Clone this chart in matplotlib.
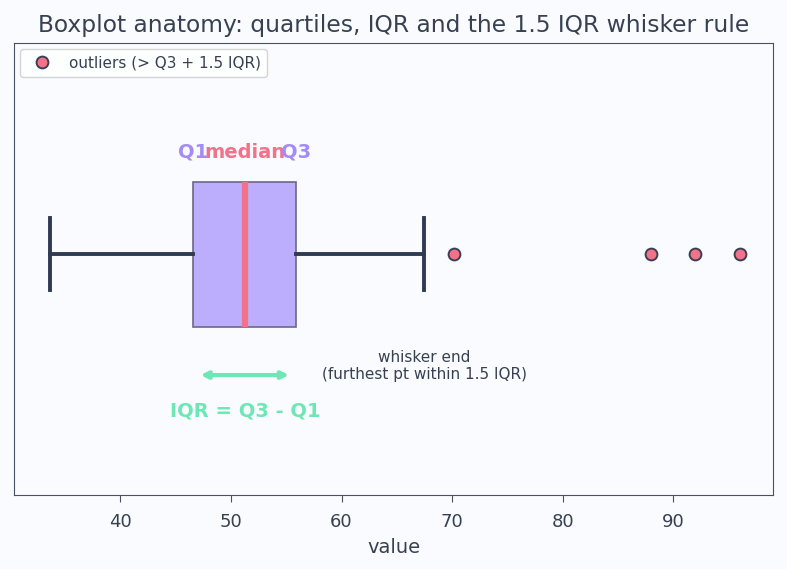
import matplotlib.pyplot as plt
from matplotlib.lines import Line2D

# summary stats
whisker_lo = 33.6
q1 = 46.6
median = 51.3
q3 = 55.9
whisker_hi = 67.5
outliers = [70.2, 88.0, 92.0, 96.0]

dark = "#2f3b52"
text_col = "#374151"
purple = "#a48bf5"
pink = "#f4718a"
green = "#6ee7b7"
bg = "#fafbfe"

fig, ax = plt.subplots(figsize=(7.87, 5.69), dpi=100)
fig.patch.set_facecolor(bg)
ax.set_facecolor(bg)

stats = [{
    "whislo": whisker_lo, "q1": q1, "med": median, "q3": q3,
    "whishi": whisker_hi, "fliers": outliers,
}]
ax.bxp(stats, positions=[1], widths=0.5, vert=False, patch_artist=True,
       showfliers=False,
       boxprops=dict(facecolor="#bcaefc", edgecolor="#6b6888", linewidth=1.2),
       medianprops=dict(color=pink, linewidth=4.5),
       whiskerprops=dict(color=dark, linewidth=2.8),
       capprops=dict(color=dark, linewidth=2.8))

ax.plot(outliers, [1] * len(outliers), "o", markersize=8.5,
        markerfacecolor=pink, markeredgecolor="#3b3f55", markeredgewidth=1.4,
        linestyle="none")

ax.text(q1, 1.352, "Q1", color=purple, ha="center", va="center",
        fontsize=14, fontweight="bold")
ax.text(median, 1.352, "median", color=pink, ha="center", va="center",
        fontsize=14, fontweight="bold")
ax.text(q3, 1.352, "Q3", color=purple, ha="center", va="center",
        fontsize=14, fontweight="bold")

ax.annotate("", xy=(q3 - 0.4, 0.583), xytext=(q1 + 0.4, 0.583),
            arrowprops=dict(arrowstyle="<->", color=green, lw=3))
ax.text(median, 0.459, "IQR = Q3 - Q1", color=green, ha="center", va="center",
        fontsize=14, fontweight="bold")
ax.text(whisker_hi, 0.614, "whisker end\n(furthest pt within 1.5 IQR)",
        color=text_col, ha="center", va="center", fontsize=11,
        linespacing=1.1)

ax.set_xlim(30.4, 99.0)
ax.set_ylim(0.169, 1.728)
ax.set_yticks([])
ax.set_xticks([40, 50, 60, 70, 80, 90])
ax.tick_params(axis="x", colors="#4a5060", labelsize=13, labelcolor=text_col,
               length=5, pad=8)
for s in ax.spines.values():
    s.set_color("#4a5060")

ax.set_xlabel("value", fontsize=14, color=text_col, labelpad=5)
ax.set_title("Boxplot anatomy: quartiles, IQR and the 1.5 IQR whisker rule",
             fontsize=16.8, color=text_col, pad=8)

handle = Line2D([], [], marker="o", linestyle="none", markersize=8.5,
                markerfacecolor=pink, markeredgecolor="#3b3f55",
                markeredgewidth=1.4)
ax.legend([handle], ["outliers (> Q3 + 1.5 IQR)"], loc="upper left",
          fontsize=11, facecolor="white", edgecolor="#cccccc",
          labelcolor=text_col, borderaxespad=0.4)

plt.subplots_adjust(left=0.018, right=0.982, top=0.924, bottom=0.13)
plt.savefig("out.png", dpi=100, facecolor=bg)
